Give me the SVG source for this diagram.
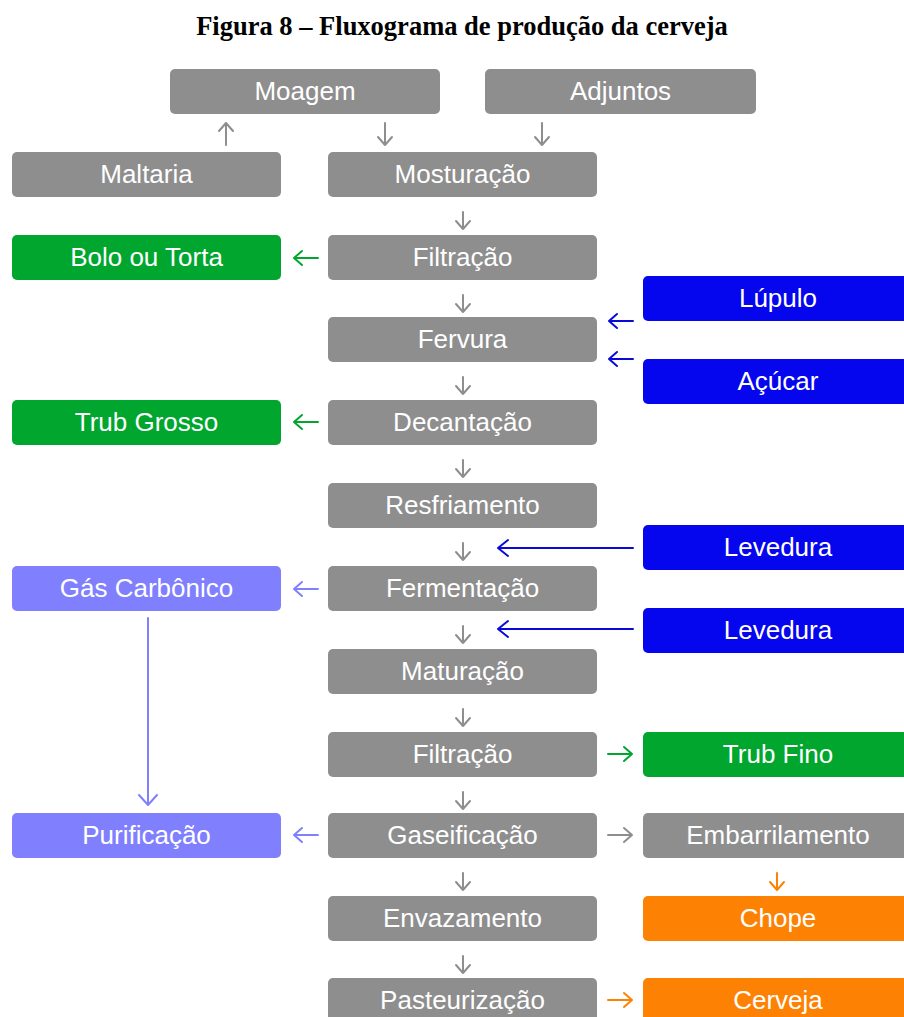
<svg xmlns="http://www.w3.org/2000/svg" width="904" height="1017" viewBox="0 0 904 1017">
<style>
.t{font-family:"Liberation Sans",Arial,sans-serif;font-size:26px;fill:#fff;text-anchor:middle}
.title{font-family:"Liberation Serif","Times New Roman",serif;font-size:26.5px;font-weight:bold;fill:#000;text-anchor:middle}
.g{fill:#8e8e8e}.gr{fill:#00a62e}.b{fill:#0505ee}.p{fill:#8080ff}.o{fill:#fd8204}
.a{fill:none;stroke-width:2;stroke-linecap:round;stroke-linejoin:round}
.ag{stroke:#8e8e8e}.agr{stroke:#00a62e}.ab{stroke:#0a0ad8}.ap{stroke:#8080ff}.ao{stroke:#fd8204}
</style>
<rect width="904" height="1017" fill="#fff"/>
<text class="title" x="462" y="35">Figura 8 – Fluxograma de produção da cerveja</text>
<g id="moagem"><rect class="g" x="170" y="69" width="270" height="45" rx="5"/><text class="t" x="305" y="100">Moagem</text></g>
<g id="adjuntos"><rect class="g" x="485" y="69" width="271" height="45" rx="5"/><text class="t" x="620.5" y="100">Adjuntos</text></g>
<g id="maltaria"><rect class="g" x="12" y="152" width="269" height="45" rx="5"/><text class="t" x="146.5" y="183">Maltaria</text></g>
<g id="mosturacao"><rect class="g" x="328" y="152" width="269" height="45" rx="5"/><text class="t" x="462.5" y="183">Mosturação</text></g>
<g id="bolo"><rect class="gr" x="12" y="235" width="269" height="45" rx="5"/><text class="t" x="146.5" y="266">Bolo ou Torta</text></g>
<g id="filtracao1"><rect class="g" x="328" y="235" width="269" height="45" rx="5"/><text class="t" x="462.5" y="266">Filtração</text></g>
<g id="lupulo"><rect class="b" x="643" y="276" width="275" height="45" rx="5"/><text class="t" x="778" y="307">Lúpulo</text></g>
<g id="fervura"><rect class="g" x="328" y="317" width="269" height="45" rx="5"/><text class="t" x="462.5" y="348">Fervura</text></g>
<g id="acucar"><rect class="b" x="643" y="359" width="275" height="45" rx="5"/><text class="t" x="778" y="390">Açúcar</text></g>
<g id="trubgrosso"><rect class="gr" x="12" y="400" width="269" height="45" rx="5"/><text class="t" x="146.5" y="431">Trub Grosso</text></g>
<g id="decantacao"><rect class="g" x="328" y="400" width="269" height="45" rx="5"/><text class="t" x="462.5" y="431">Decantação</text></g>
<g id="resfriamento"><rect class="g" x="328" y="483" width="269" height="45" rx="5"/><text class="t" x="462.5" y="514">Resfriamento</text></g>
<g id="levedura1"><rect class="b" x="643" y="525" width="275" height="45" rx="5"/><text class="t" x="778" y="556">Levedura</text></g>
<g id="gas"><rect class="p" x="12" y="566" width="269" height="45" rx="5"/><text class="t" x="146.5" y="597">Gás Carbônico</text></g>
<g id="fermentacao"><rect class="g" x="328" y="566" width="269" height="45" rx="5"/><text class="t" x="462.5" y="597">Fermentação</text></g>
<g id="levedura2"><rect class="b" x="643" y="608" width="275" height="45" rx="5"/><text class="t" x="778" y="639">Levedura</text></g>
<g id="maturacao"><rect class="g" x="328" y="649" width="269" height="45" rx="5"/><text class="t" x="462.5" y="680">Maturação</text></g>
<g id="filtracao2"><rect class="g" x="328" y="732" width="269" height="45" rx="5"/><text class="t" x="462.5" y="763">Filtração</text></g>
<g id="trubfino"><rect class="gr" x="643" y="732" width="275" height="45" rx="5"/><text class="t" x="778" y="763">Trub Fino</text></g>
<g id="purificacao"><rect class="p" x="12" y="813" width="269" height="45" rx="5"/><text class="t" x="146.5" y="844">Purificação</text></g>
<g id="gaseificacao"><rect class="g" x="328" y="813" width="269" height="45" rx="5"/><text class="t" x="462.5" y="844">Gaseificação</text></g>
<g id="embarrilamento"><rect class="g" x="643" y="813" width="275" height="45" rx="5"/><text class="t" x="778" y="844">Embarrilamento</text></g>
<g id="envazamento"><rect class="g" x="328" y="896" width="269" height="45" rx="5"/><text class="t" x="462.5" y="927">Envazamento</text></g>
<g id="chope"><rect class="o" x="643" y="896" width="275" height="45" rx="5"/><text class="t" x="778" y="927">Chope</text></g>
<g id="pasteurizacao"><rect class="g" x="328" y="978" width="269" height="45" rx="5"/><text class="t" x="462.5" y="1009">Pasteurização</text></g>
<g id="cerveja"><rect class="o" x="643" y="978" width="275" height="45" rx="5"/><text class="t" x="778" y="1009">Cerveja</text></g>
<g id="connectors">
<path class="a ag" d="M226 145V123M219 131L226 123L233 131"/>
<path class="a ag" d="M385 123V145M378 137L385 145L392 137"/>
<path class="a ag" d="M542 123V145M535 137L542 145L549 137"/>
<path class="a ag" d="M463 212V229M456 221L463 229L470 221"/>
<path class="a ag" d="M463 295V312M456 304L463 312L470 304"/>
<path class="a ag" d="M463 377V394M456 386L463 394L470 386"/>
<path class="a ag" d="M463 460V477M456 469L463 477L470 469"/>
<path class="a ag" d="M463 543V560M456 552L463 560L470 552"/>
<path class="a ag" d="M463 626V643M456 635L463 643L470 635"/>
<path class="a ag" d="M463 709V726M456 718L463 726L470 718"/>
<path class="a ag" d="M463 792V809M456 801L463 809L470 801"/>
<path class="a ag" d="M463 873V890M456 882L463 890L470 882"/>
<path class="a ag" d="M463 956V973M456 965L463 973L470 965"/>
<path class="a agr" d="M318 258H294M302 251L294 258L302 265"/>
<path class="a agr" d="M318 422H294M302 415L294 422L302 429"/>
<path class="a ap" d="M318 589H294M302 582L294 589L302 596"/>
<path class="a ap" d="M318 835H294M302 828L294 835L302 842"/>
<path class="a ab" d="M633 321H609M617 314L609 321L617 328"/>
<path class="a ab" d="M633 359H609M617 352L609 359L617 366"/>
<path class="a ab" d="M633 548H498M508 540L498 548L508 556"/>
<path class="a ab" d="M633 629H498M508 621L498 629L508 637"/>
<path class="a agr" d="M608 754H632M624 747L632 754L624 761"/>
<path class="a ag" d="M608 835H632M624 828L632 835L624 842"/>
<path class="a ao" d="M608 1000H632M624 993L632 1000L624 1007"/>
<path class="a ao" d="M777 873V890M770 882L777 890L784 882"/>
<path class="a ap" d="M148 618V805M139 795L148 805L157 795"/>
</g>
</svg>
